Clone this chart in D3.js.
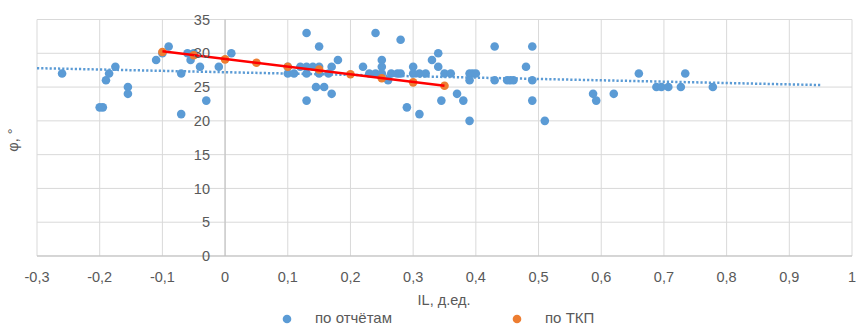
<!DOCTYPE html>
<html>
<head>
<meta charset="utf-8">
<script src="https://cdn.jsdelivr.net/npm/d3@7"></script>
<style>
  body { margin: 0; background: #fff; }
  text { font-family: "Liberation Sans", Arial, sans-serif; fill: #595959; }
</style>
</head>
<body>
<svg id="chart" width="856" height="326"></svg>
<script>
// series "по отчётам"
const reportX = [-0.26, -0.2, -0.195, -0.19, -0.185, -0.175, -0.155, -0.155, -0.11, -0.1, -0.09, -0.07, -0.07, -0.06, -0.055, -0.05, -0.04, -0.03, -0.01, 0.01,
  0.1, 0.1, 0.11, 0.12, 0.13, 0.13, 0.13, 0.13, 0.14, 0.145, 0.15, 0.15, 0.15, 0.158, 0.165, 0.17, 0.17, 0.18,
  0.22, 0.23, 0.24, 0.24, 0.25, 0.25, 0.25, 0.26, 0.265, 0.275, 0.28, 0.28, 0.29, 0.3, 0.3, 0.31, 0.31, 0.32, 0.33, 0.34, 0.34, 0.345,
  0.35, 0.36, 0.37, 0.38, 0.39, 0.39, 0.39, 0.395, 0.4, 0.43, 0.43, 0.45, 0.455, 0.46, 0.48, 0.49, 0.49, 0.49, 0.51,
  0.587, 0.592, 0.62, 0.66, 0.688, 0.696, 0.707, 0.727, 0.734, 0.778];
const reportY = [27, 22, 22, 26, 27, 28, 25, 24, 29, 30, 31, 27, 21, 30, 29, 30, 28, 23, 28, 30,
  27, 28, 27, 28, 28, 27, 33, 23, 28, 25, 31, 27, 28, 25, 27, 28, 24, 29,
  28, 27, 33, 27, 29, 28, 27, 26, 27, 27, 32, 27, 22, 28, 27, 21, 27, 27, 29, 30, 28, 23,
  27, 27, 24, 23, 20, 27, 26, 27, 27, 31, 26, 26, 26, 26, 28, 31, 26, 23, 20,
  24, 23, 24, 27, 25, 25, 25, 25, 27, 25];

// series "по ТКП"
const tkpX = [-0.1, -0.05, 0, 0.05, 0.1, 0.15, 0.2, 0.25, 0.3, 0.35];
const tkpY = [30.2, 29.7, 29.1, 28.6, 28.0, 27.6, 26.9, 26.3, 25.7, 25.2];

// trend lines (endpoints)
const reportTrendX = [-0.3, 0.95];
const reportTrendY = [27.8, 25.3];
const tkpTrendX = [-0.1, 0.35];
const tkpTrendY = [30.3, 25.2];

const xTicks = [-0.3, -0.2, -0.1, 0, 0.1, 0.2, 0.3, 0.4, 0.5, 0.6, 0.7, 0.8, 0.9, 1];
const yTicks = [0, 5, 10, 15, 20, 25, 30, 35];

const svg = d3.select("#chart");
const blue = "#5B9BD5", orange = "#ED7D31";

const x = d3.scaleLinear().domain([-0.3, 1]).range([37, 852]);
const y = d3.scaleLinear().domain([0, 35]).range([256, 19.5]);
const fmt = d => String(d).replace(".", ",");

// gridlines
svg.append("g")
  .selectAll("line.v")
  .data(xTicks)
  .enter().append("line")
    .attr("x1", d => x(d)).attr("x2", d => x(d))
    .attr("y1", y(0)).attr("y2", y(35))
    .attr("stroke", "#d9d9d9").attr("stroke-width", 1);
svg.append("g")
  .selectAll("line.h")
  .data(yTicks)
  .enter().append("line")
    .attr("x1", x(-0.3)).attr("x2", x(1))
    .attr("y1", d => y(d)).attr("y2", d => y(d))
    .attr("stroke", "#d9d9d9").attr("stroke-width", 1);

// axis lines
svg.append("line")
  .attr("x1", x(0)).attr("x2", x(0)).attr("y1", y(0)).attr("y2", y(35))
  .attr("stroke", "#bfbfbf");
svg.append("line")
  .attr("x1", x(-0.3)).attr("x2", x(1)).attr("y1", y(0)).attr("y2", y(0))
  .attr("stroke", "#bfbfbf");

const reportData = reportX.map((v, i) => ({ x: v, y: reportY[i] }));
const tkpData = tkpX.map((v, i) => ({ x: v, y: tkpY[i] }));

svg.append("g")
  .selectAll("circle")
  .data(reportData)
  .enter().append("circle")
    .attr("cx", d => x(d.x))
    .attr("cy", d => y(d.y))
    .attr("r", 4.3)
    .style("fill", blue);

const line = d3.line().x(d => x(d[0])).y(d => y(d[1]));

svg.append("path")
  .datum(reportTrendX.map((v, i) => [v, reportTrendY[i]]))
  .attr("d", line)
  .attr("fill", "none")
  .attr("stroke", blue)
  .attr("stroke-width", 2.5)
  .attr("stroke-dasharray", "2.2,2");

svg.append("g")
  .selectAll("circle")
  .data(tkpData)
  .enter().append("circle")
    .attr("cx", d => x(d.x))
    .attr("cy", d => y(d.y))
    .attr("r", 4.3)
    .style("fill", orange);

svg.append("path")
  .datum(tkpTrendX.map((v, i) => [v, tkpTrendY[i]]))
  .attr("d", line)
  .attr("fill", "none")
  .attr("stroke", "#FF0000")
  .attr("stroke-width", 2.5);

// tick labels
svg.append("g")
  .selectAll("text")
  .data(yTicks)
  .enter().append("text")
    .attr("x", 210)
    .attr("y", d => y(d))
    .attr("dy", "0.35em")
    .attr("text-anchor", "end")
    .style("font-size", "14.5px")
    .text(d => d);
svg.append("g")
  .selectAll("text")
  .data(xTicks)
  .enter().append("text")
    .attr("x", d => x(d))
    .attr("y", 277)
    .attr("dy", "0.35em")
    .attr("text-anchor", "middle")
    .style("font-size", "14.5px")
    .text(fmt);

// axis titles
svg.append("text")
  .attr("x", 444).attr("y", 300).attr("dy", "0.35em")
  .attr("text-anchor", "middle")
  .style("font-size", "14.5px")
  .text("IL, д.ед.");
svg.append("text")
  .attr("transform", "translate(13,140) rotate(-90)")
  .attr("dy", "0.35em")
  .attr("text-anchor", "middle")
  .style("font-size", "14.5px")
  .text("φ, °");

// legend
const legend = [
  { label: "по отчётам", color: blue, cx: 287, tx: 315 },
  { label: "по ТКП", color: orange, cx: 517, tx: 545 }
];
const lg = svg.append("g").selectAll("g").data(legend).enter().append("g");
lg.append("circle").attr("cx", d => d.cx).attr("cy", 319).attr("r", 4.3).style("fill", d => d.color);
lg.append("text").attr("x", d => d.tx).attr("y", 318).attr("dy", "0.35em")
  .style("font-size", "15px").text(d => d.label);
</script>
</body>
</html>
